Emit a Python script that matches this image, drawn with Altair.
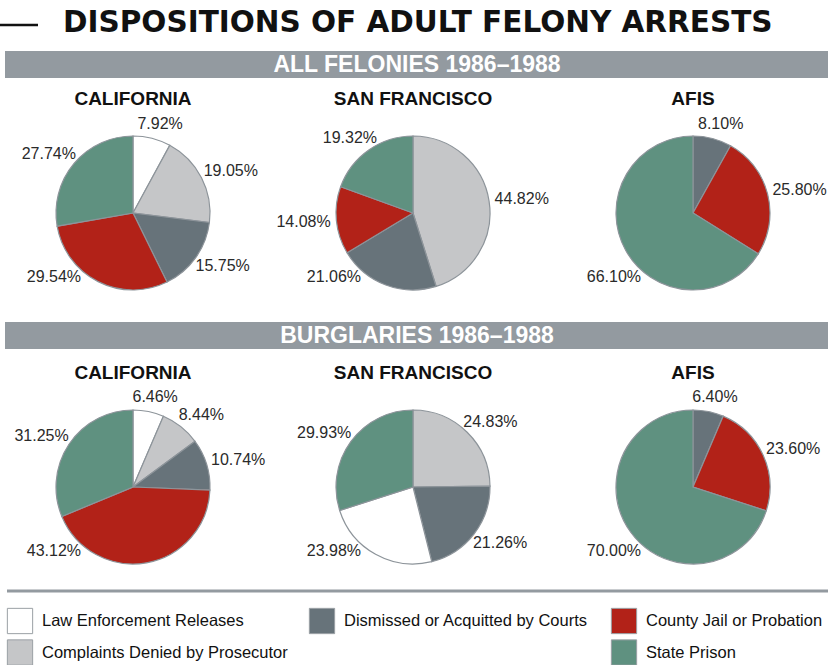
import altair as alt
import pandas as pd

title_text = "DISPOSITIONS OF ADULT FELONY ARRESTS"
groups = ["ALL FELONIES 1986–1988", "BURGLARIES 1986–1988"]
places = ["CALIFORNIA", "SAN FRANCISCO", "AFIS"]
categories = ["Law Enforcement Releases", "Complaints Denied by Prosecutor",
              "Dismissed or Acquitted by Courts", "County Jail or Probation", "State Prison"]
colors = ["#ffffff", "#c5c6c8", "#67737a", "#b22218", "#5f9180"]

# percentages per category (None = no slice)
felonies_california = [7.92, 19.05, 15.75, 29.54, 27.74]
felonies_san_francisco = [None, 44.82, 21.06, 14.08, 19.32]
felonies_afis = [None, None, 8.10, 25.80, 66.10]
burglaries_california = [6.46, 8.44, 10.74, 43.12, 31.25]
burglaries_san_francisco = [23.98, 24.83, 21.26, None, 29.93]
burglaries_afis = [None, None, 6.40, 23.60, 70.00]

# clockwise slice order (category indices)
default_order = [0, 1, 2, 3, 4]
burglaries_san_francisco_order = [1, 2, 0, 4]

pies = [
    (groups[0], places[0], felonies_california, default_order),
    (groups[0], places[1], felonies_san_francisco, default_order),
    (groups[0], places[2], felonies_afis, default_order),
    (groups[1], places[0], burglaries_california, default_order),
    (groups[1], places[1], burglaries_san_francisco, burglaries_san_francisco_order),
    (groups[1], places[2], burglaries_afis, default_order),
]
rows = []
for g, p, vals, order in pies:
    for slot, ci in enumerate(order):
        if vals[ci] is not None:
            rows.append({"group": g, "place": p, "category": categories[ci],
                         "value": vals[ci], "slot": slot})
df = pd.DataFrame(rows)

titles_df = pd.DataFrame([{"group": g, "place": p} for g in groups for p in places])
bands_df = pd.DataFrame({"group": groups})
legend_df = pd.DataFrame({"category": categories, "idx": list(range(len(categories)))})
header_df = pd.DataFrame({"t": [title_text]})

LABEL_FONT = "Liberation Sans"
A = "(226*PI/180)"   # lower-left anchor used for the slice that covers it
RX, RY = 110, 92     # elliptical label offsets

xscale = alt.Scale(type="point", domain=places, range=[133, 693], padding=0)
yscale = alt.Scale(type="point", domain=groups, range=[213, 487], padding=0)
bandscale = alt.Scale(type="point", domain=groups, range=[64.5, 335.5], padding=0)
colorscale = alt.Scale(domain=categories, range=colors)

X = alt.X("place:N", scale=xscale, axis=None)
Y = alt.Y("group:N", scale=yscale, axis=None)

base = (
    alt.Chart(df)
    .transform_joinaggregate(total="sum(value)", groupby=["group", "place"])
    .transform_window(cum="sum(value)", groupby=["group", "place"],
                      sort=[alt.SortField("slot")], frame=[None, 0])
    .transform_calculate(start="2*PI*(datum.cum-datum.value)/datum.total")
    .transform_calculate(end="2*PI*datum.cum/datum.total")
    .transform_calculate(lab=f"(datum.start <= {A} && datum.end >= {A}) ? {A} : (datum.start+datum.end)/2")
    .transform_calculate(lx=f"{RX}*sin(datum.lab)")
    .transform_calculate(ly=f"{RY}*cos(datum.lab)")
    .transform_calculate(lr="sqrt(datum.lx*datum.lx + datum.ly*datum.ly)")
    .transform_calculate(lt="atan2(datum.lx, datum.ly)")
    .transform_calculate(label="format(datum.value, '.2f') + '%'")
)

arcs = base.mark_arc(outerRadius=77, stroke="#8d949a", strokeWidth=1.2).encode(
    x=X, y=Y,
    theta=alt.Theta("start:Q", scale=None, stack=False),
    theta2="end:Q",
    color=alt.Color("category:N", scale=colorscale, legend=None),
)

labels = base.mark_text(font=LABEL_FONT, fontSize=16, color="#2a2a2a",
                        baseline="middle", align="center").encode(
    x=X, y=Y,
    theta=alt.Theta("lt:Q", scale=None, stack=False),
    radius=alt.Radius("lr:Q", scale=None),
    text="label:N",
)

place_titles = alt.Chart(titles_df).mark_text(
    font=LABEL_FONT, fontSize=19, fontWeight="bold", color="#111", dy=-114, baseline="middle"
).encode(x=X, y=Y, text="place:N")

bands = alt.Chart(bands_df).mark_rule(color="#939aa0", strokeWidth=27).encode(
    x=alt.value(5), x2=alt.value(828),
    y=alt.Y("group:N", scale=bandscale, axis=None),
)
band_text = alt.Chart(bands_df).mark_text(
    font=LABEL_FONT, fontSize=23, fontWeight="bold", color="white", baseline="middle"
).encode(x=alt.value(417), y=alt.Y("group:N", scale=bandscale, axis=None), text="group:N")

header_line = alt.Chart(header_df).mark_rule(color="#111", strokeWidth=2.5).encode(
    x=alt.value(0), x2=alt.value(38), y=alt.value(25))
header = alt.Chart(header_df).mark_text(
    font="DejaVu Sans", fontSize=29.5, fontWeight="bold", color="#111",
    align="left", baseline="alphabetic"
).encode(x=alt.value(63), y=alt.value(32), text="t:N")

separator = alt.Chart(header_df).mark_rule(color="#939aa0", strokeWidth=3).encode(
    x=alt.value(7), x2=alt.value(828), y=alt.value(591))

leg = (
    alt.Chart(legend_df)
    .transform_calculate(lcol="datum.idx < 2 ? 0 : (datum.idx == 2 ? 1 : 2)")
    .transform_calculate(lrow="(datum.idx == 1 || datum.idx == 4) ? 1 : 0")
)
LX = alt.X("lcol:Q", scale=alt.Scale(domain=[0, 2], range=[20, 624]), axis=None)
LY = alt.Y("lrow:Q", scale=alt.Scale(domain=[0, 1], range=[621, 652.5]), axis=None)
leg_sq = leg.mark_square(size=640, stroke="#9aa0a5", strokeWidth=1, opacity=1).encode(
    x=LX, y=LY, color=alt.Color("category:N", scale=colorscale, legend=None))
leg_txt = leg.mark_text(font=LABEL_FONT, fontSize=16.5, color="#111", align="left",
                        dx=22, baseline="middle").encode(x=LX, y=LY, text="category:N")

chart = (
    alt.layer(header_line, header, bands, band_text, arcs, labels, place_titles,
              separator, leg_sq, leg_txt)
    .resolve_scale(x="independent", y="independent")
    .properties(width=828, height=665, padding=0,
                autosize=alt.AutoSizeParams(type="none"))
    .configure_view(stroke=None)
)
chart.save("out.html", embed_options={"renderer": "svg", "actions": False})
